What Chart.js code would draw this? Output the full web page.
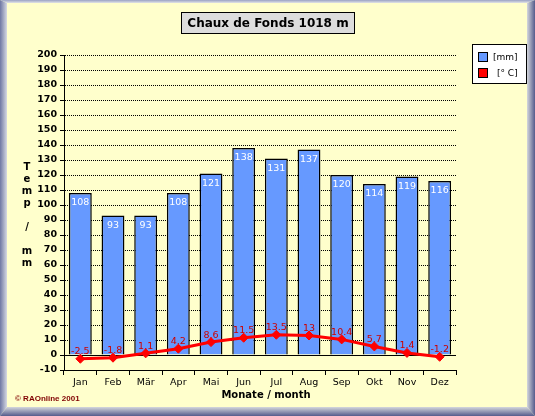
<!DOCTYPE html>
<html><head><meta charset="utf-8">
<script src="https://cdn.jsdelivr.net/npm/chart.js@4/dist/chart.umd.min.js"></script>
<style>html,body{margin:0;padding:0;background:#FFFFCC;}canvas{display:block;}</style>
</head><body>
<canvas id="c" width="535" height="416"></canvas>
<script>
const months = ['Jan','Feb','Mär','Apr','Mai','Jun','Jul','Aug','Sep','Okt','Nov','Dez'];
const precipitation = [108,93,93,108,121,138,131,137,120,114,119,116];
const temperature = [-2.5,-1.8,1.1,4.2,8.6,11.5,13.5,13,10.4,5.7,1.4,-1.2];
const titleText = 'Chaux de Fonds 1018 m';
const yAxisLetters = ['T','e','m','p','','/','','m','m'];
const xAxisTitle = 'Monate / month';
const legendLabels = ['[mm]','[° C]'];
const creditText = '© RAOnline 2001';
const yMin = -10, yMax = 200, yStep = 10;

const BLUE = '#6699FF', RED = '#FF0000', LABEL_RED = '#CC0000';
const FONT = 'DejaVu Sans';

const framePlugin = {
  id: 'frame',
  beforeDraw(chart) {
    const ctx = chart.ctx, W = chart.width, H = chart.height;
    ctx.save();
    ctx.fillStyle = '#FFFFCC';
    ctx.fillRect(0, 0, W, H);
    const L = 7, T = 3, R = 8, B = 9;
    let g;
    g = ctx.createLinearGradient(0, 0, 0, T);
    g.addColorStop(0, '#9AA2C4'); g.addColorStop(1, '#E2E4E6');
    ctx.fillStyle = g;
    ctx.beginPath(); ctx.moveTo(0,0); ctx.lineTo(W,0); ctx.lineTo(W-R,T); ctx.lineTo(L,T); ctx.closePath(); ctx.fill();
    g = ctx.createLinearGradient(0, 0, L, 0);
    g.addColorStop(0, '#6E77A3'); g.addColorStop(1, '#D6D9E2');
    ctx.fillStyle = g;
    ctx.beginPath(); ctx.moveTo(0,0); ctx.lineTo(L,T); ctx.lineTo(L,H-B); ctx.lineTo(0,H); ctx.closePath(); ctx.fill();
    g = ctx.createLinearGradient(W-R, 0, W, 0);
    g.addColorStop(0, '#D4D7DC'); g.addColorStop(1, '#555C8C');
    ctx.fillStyle = g;
    ctx.beginPath(); ctx.moveTo(W,0); ctx.lineTo(W,H); ctx.lineTo(W-R,H-B); ctx.lineTo(W-R,T); ctx.closePath(); ctx.fill();
    g = ctx.createLinearGradient(0, H-B, 0, H);
    g.addColorStop(0, '#D4D7DC'); g.addColorStop(1, '#555C8C');
    ctx.fillStyle = g;
    ctx.beginPath(); ctx.moveTo(0,H); ctx.lineTo(L,H-B); ctx.lineTo(W-R,H-B); ctx.lineTo(W,H); ctx.closePath(); ctx.fill();
    ctx.restore();
  },
  beforeDatasetsDraw(chart) {
    const ctx = chart.ctx, a = chart.chartArea, ys = chart.scales.y;
    ctx.save();
    ctx.strokeStyle = '#000'; ctx.lineWidth = 1; ctx.setLineDash([1,1]);
    ys.ticks.forEach(t => {
      if (t.value === yMin || t.value === 0) return;
      const py = Math.round(ys.getPixelForValue(t.value)) + 0.5;
      ctx.beginPath(); ctx.moveTo(a.left + 1, py); ctx.lineTo(a.right, py); ctx.stroke();
    });
    ctx.restore();
  },
  beforeDatasetDraw(chart, args) {
    if (args.index !== 1) return;
    const ctx = chart.ctx, a = chart.chartArea, ys = chart.scales.y;
    const py = Math.round(ys.getPixelForValue(0)) + 0.5;
    ctx.save();
    ctx.strokeStyle = '#000'; ctx.lineWidth = 1;
    ctx.beginPath(); ctx.moveTo(a.left, py); ctx.lineTo(a.right, py); ctx.stroke();
    ctx.restore();
  },
  afterDatasetsDraw(chart) {
    const ctx = chart.ctx;
    ctx.save();
    ctx.textAlign = 'center'; ctx.textBaseline = 'middle';
    ctx.font = '9.5px "' + FONT + '"';
    ctx.fillStyle = '#FFFFFF';
    chart.getDatasetMeta(0).data.forEach((el, i) => {
      ctx.fillText(String(precipitation[i]), el.x, el.y + 10);
    });
    ctx.fillStyle = LABEL_RED;
    chart.getDatasetMeta(1).data.forEach((el, i) => {
      ctx.fillText(String(temperature[i]), el.x, el.y - 7);
    });
    ctx.restore();
  },
  afterDraw(chart) {
    const ctx = chart.ctx;
    ctx.save();
    ctx.fillStyle = '#DDDDDD';
    ctx.fillRect(181, 12, 174, 22);
    ctx.strokeStyle = '#000'; ctx.lineWidth = 1;
    ctx.strokeRect(181.5, 12.5, 173, 21);
    ctx.fillStyle = '#000';
    ctx.font = 'bold 12px "' + FONT + '"';
    ctx.textAlign = 'center'; ctx.textBaseline = 'middle';
    ctx.fillText(titleText, 268, 23.5);
    ctx.fillStyle = '#FFFFFF';
    ctx.fillRect(472, 44, 55, 40);
    ctx.strokeRect(472.5, 44.5, 54, 39);
    ctx.fillStyle = BLUE; ctx.fillRect(478, 52, 10, 10); ctx.strokeRect(478.5, 52.5, 9, 9);
    ctx.fillStyle = RED; ctx.fillRect(478, 68, 10, 10); ctx.strokeRect(478.5, 68.5, 9, 9);
    ctx.fillStyle = '#000';
    ctx.font = '9px "' + FONT + '"';
    ctx.textAlign = 'left';
    ctx.fillText(legendLabels[0], 493, 57.5);
    ctx.fillText(legendLabels[1], 497, 73.5);
    ctx.font = 'bold 10px "' + FONT + '"';
    ctx.textAlign = 'center';
    yAxisLetters.forEach((ch, i) => { if (ch) ctx.fillText(ch, 27, 167 + i * 12); });
    ctx.font = 'bold 10px "' + FONT + '"';
    ctx.fillText(xAxisTitle, 266, 395);
    ctx.font = 'bold 8px "Liberation Sans"';
    ctx.fillStyle = '#800000';
    ctx.textAlign = 'left';
    ctx.fillText(creditText, 15, 399);
    ctx.restore();
  }
};

new Chart(document.getElementById('c'), {
  data: {
    labels: months,
    datasets: [
      { type: 'bar', label: legendLabels[0], data: precipitation, backgroundColor: BLUE,
        borderColor: '#000', borderWidth: 1.5, barPercentage: 0.7, categoryPercentage: 1, order: 1 },
      { type: 'line', label: legendLabels[1], data: temperature, borderColor: RED, backgroundColor: RED,
        borderWidth: 3, tension: 0, pointStyle: 'rectRot', pointRadius: 4.5, pointBorderWidth: 1,
        pointBorderColor: RED, pointBackgroundColor: RED, order: 0 }
    ]
  },
  options: {
    responsive: false, animation: false, devicePixelRatio: 1,
    layout: { padding: { left: 0, top: 55, right: 79, bottom: 0 } },
    plugins: { legend: { display: false }, tooltip: { enabled: false }, title: { display: false } },
    scales: {
      x: {
        type: 'category', offset: true,
        grid: { offset: true, drawOnChartArea: false, drawTicks: true, tickLength: 5, color: '#000', tickColor: '#000' },
        border: { display: true, color: '#000', width: 1 },
        ticks: { color: '#000', font: { family: FONT, size: 9.5 }, padding: 2, maxRotation: 0, autoSkip: false },
        afterFit(s) { s.height = 46; }
      },
      y: {
        min: yMin, max: yMax,
        ticks: { stepSize: yStep, color: '#000', font: { family: FONT, size: 9.5, weight: 'bold' }, padding: 3, autoSkip: false },
        grid: { drawOnChartArea: false, drawTicks: true, tickLength: 4, color: '#000', tickColor: '#000' },
        border: { display: true, color: '#000', width: 1 },
        afterFit(s) { s.width = 64; }
      }
    }
  },
  plugins: [framePlugin]
});
</script>
</body></html>
